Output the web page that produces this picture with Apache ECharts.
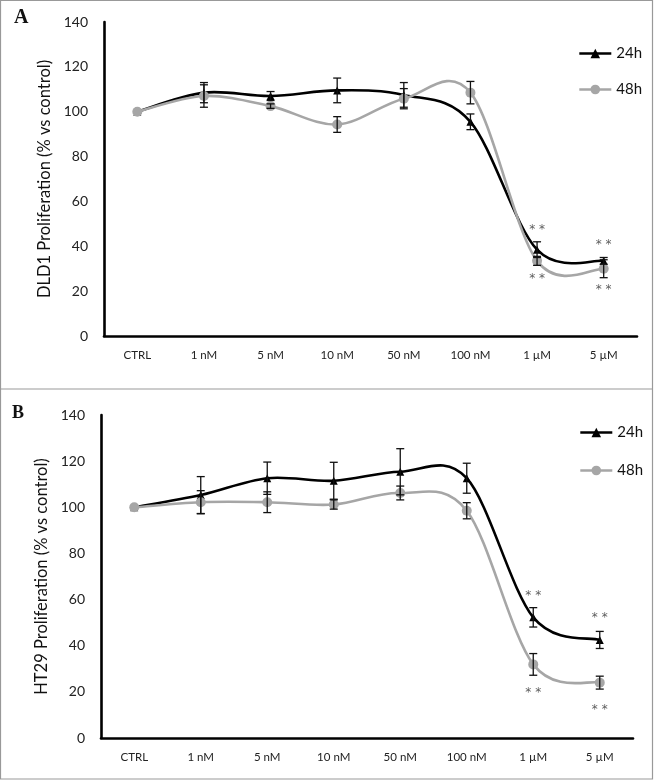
<!DOCTYPE html>
<html>
<head>
<meta charset="utf-8">
<script src="https://cdn.jsdelivr.net/npm/echarts@6/dist/echarts.min.js"></script>
<style>
  html, body { margin: 0; padding: 0; background: #fff; }
  #chart { width: 655px; height: 780px; }
</style>
</head>
<body>
<div id="chart"></div>
<script>
// ---------------- data ----------------
const categories = ['CTRL', '1 nM', '5 nM', '10 nM', '50 nM', '100 nM', '1 \u00b5M', '5 \u00b5M'];
const yTicks = [0, 20, 40, 60, 80, 100, 120, 140];

// Panel A: DLD1
const dld1_24h     = [100, 108.5, 107, 109.5, 107.5, 95.5, 38.5, 33.5];
const dld1_24h_err = [0, 4.5, 2, 5.5, 5.5, 3.5, 3.5, 1.5];
const dld1_48h     = [100, 107, 102.5, 94.3, 105.8, 108.5, 33.5, 30];
const dld1_48h_err = [0, 5, 1, 3.5, 4.5, 5, 2, 4];
const dld1_stars   = [[6, 48.8], [6, 27], [7, 41.8], [7, 22]];

// Panel B: HT29
const ht29_24h     = [100, 105.3, 112.6, 111.5, 115.4, 112.6, 52.3, 42.5];
const ht29_24h_err = [0, 8, 7, 8, 10, 6.5, 4.2, 3.7];
const ht29_48h     = [100, 102.2, 102.2, 101.2, 106.2, 98.5, 31.9, 24];
const ht29_48h_err = [0, 5, 4.5, 2, 3, 3.5, 4.7, 2.8];
const ht29_stars   = [[6, 62.7], [6, 21], [7, 53.3], [7, 13.6]];

// ---------------- helpers ----------------
const BLACK = '#000000';
const GRAY = '#A6A6A6';
const FONT = 'Lato';

function errData(vals, errs) {
  const out = [];
  vals.forEach((v, i) => { if (errs[i] > 0) out.push([i, v - errs[i], v + errs[i]]); });
  return out;
}
function errSeries(vals, errs, idx) {
  return {
    type: 'custom', xAxisIndex: idx, yAxisIndex: idx, z: 5, silent: true,
    data: errData(vals, errs),
    renderItem: function (params, api) {
      const x = api.value(0);
      const lo = api.coord([x, api.value(1)]);
      const hi = api.coord([x, api.value(2)]);
      const w = 4;
      const st = { stroke: '#111', lineWidth: 1.3 };
      return { type: 'group', children: [
        { type: 'line', shape: { x1: lo[0], y1: lo[1], x2: hi[0], y2: hi[1] }, style: st },
        { type: 'line', shape: { x1: lo[0] - w, y1: lo[1], x2: lo[0] + w, y2: lo[1] }, style: st },
        { type: 'line', shape: { x1: hi[0] - w, y1: hi[1], x2: hi[0] + w, y2: hi[1] }, style: st }
      ]};
    }
  };
}
// Spreadsheet-style smoothed curve (Catmull-Rom, 1/6 tangents) through the data,
// positioned with the library's own coordinate system (api.coord).
function curveSeries(vals, idx, color) {
  const segs = [];
  for (let i = 0; i < vals.length - 1; i++) segs.push([i, vals[i], vals[i + 1]]);
  return {
    type: 'custom', xAxisIndex: idx, yAxisIndex: idx, z: 2, silent: true,
    data: segs,
    renderItem: function (params, api) {
      const i = api.value(0);
      const n = vals.length;
      const P = k => { const kk = Math.max(0, Math.min(n - 1, k)); return api.coord([kk, vals[kk]]); };
      const p0 = P(i - 1), p1 = P(i), p2 = P(i + 1), p3 = P(i + 2);
      const c1 = [p1[0] + (p2[0] - p0[0]) / 6, p1[1] + (p2[1] - p0[1]) / 6];
      const c2 = [p2[0] - (p3[0] - p1[0]) / 6, p2[1] - (p3[1] - p1[1]) / 6];
      return {
        type: 'bezierCurve',
        shape: { x1: p1[0], y1: p1[1], cpx1: c1[0], cpy1: c1[1], cpx2: c2[0], cpy2: c2[1], x2: p2[0], y2: p2[1] },
        style: { stroke: color, lineWidth: 2.6, fill: null, lineCap: 'round' }
      };
    }
  };
}
function markerSeries(name, vals, idx, color, symbol, size) {
  return {
    name: name, type: 'line', xAxisIndex: idx, yAxisIndex: idx, data: vals,
    symbol: symbol, symbolSize: size, z: 4, showAllSymbol: true,
    lineStyle: { color: color, width: 2.6, opacity: 0 },
    itemStyle: { color: color, opacity: 1 },
    emphasis: { disabled: true }
  };
}
function starSeries(pts, idx) {
  return {
    type: 'scatter', xAxisIndex: idx, yAxisIndex: idx, data: pts, symbolSize: 1,
    itemStyle: { color: 'rgba(0,0,0,0)' }, silent: true, z: 6,
    label: { show: true, position: 'inside', formatter: '* *', color: '#333',
      fontFamily: 'DejaVu Sans', fontSize: 12, offset: [0, 3] }
  };
}
function xAxisDef(idx) {
  return {
    type: 'category', gridIndex: idx, data: categories, boundaryGap: true,
    axisTick: { show: false },
    axisLine: { lineStyle: { color: '#000', width: 2.6 } },
    axisLabel: { color: '#222', fontFamily: FONT, fontSize: 11.5, margin: 13, interval: 0 }
  };
}
function yAxisDef(idx, title) {
  return {
    type: 'value', gridIndex: idx, min: yTicks[0], max: yTicks[yTicks.length - 1], interval: 20,
    splitLine: { show: false }, axisTick: { show: false },
    axisLine: { show: true, lineStyle: { color: '#000', width: 2.6 } },
    axisLabel: { color: '#222', fontFamily: FONT, fontSize: 14, margin: 16 },
    name: title, nameLocation: 'middle', nameGap: 44, nameRotate: 90,
    nameTextStyle: { color: '#111', fontFamily: FONT, fontSize: 16.5 }
  };
}
const legendBase = {
  data: ['24h', '48h'], orient: 'vertical', itemWidth: 32, itemHeight: 12,
  textStyle: { fontFamily: FONT, fontSize: 15, color: '#111' }, selectedMode: false,
  lineStyle: { width: 2.6, opacity: 1 }
};

const chart = echarts.init(document.getElementById('chart'), null, { renderer: 'canvas' });
chart.setOption({
  backgroundColor: '#fff',
  animation: false,
  grid: [
    { left: 104, top: 22, width: 533, height: 314 },
    { left: 101, top: 415, width: 532, height: 323 }
  ],
  xAxis: [xAxisDef(0), xAxisDef(1)],
  yAxis: [yAxisDef(0, 'DLD1 Proliferation (% vs control)'), yAxisDef(1, 'HT29 Proliferation (% vs control)')],
  legend: [
    Object.assign({}, legendBase, { left: 573, top: 41, itemGap: 21 }),
    Object.assign({}, legendBase, { left: 574, top: 420, itemGap: 23 })
  ],
  graphic: [
    { type: 'rect', shape: { x: 0.5, y: 0.5, width: 652, height: 778.5 },
      style: { fill: 'none', stroke: '#999', lineWidth: 1.2 }, silent: true },
    { type: 'line', shape: { x1: 0, y1: 389, x2: 653, y2: 389 },
      style: { stroke: '#999', lineWidth: 1.2 }, silent: true },
    { type: 'text', left: 14, top: 8, style: { text: 'A', font: 'bold 20px "Liberation Serif"', fill: '#111' } },
    { type: 'text', left: 12, top: 404, style: { text: 'B', font: 'bold 18px "Liberation Serif"', fill: '#111' } }
  ],
  series: [
    curveSeries(dld1_24h, 0, BLACK),
    curveSeries(dld1_48h, 0, GRAY),
    markerSeries('24h', dld1_24h, 0, BLACK, 'triangle', 8),
    markerSeries('48h', dld1_48h, 0, GRAY, 'circle', 10),
    errSeries(dld1_24h, dld1_24h_err, 0),
    errSeries(dld1_48h, dld1_48h_err, 0),
    starSeries(dld1_stars, 0),
    curveSeries(ht29_24h, 1, BLACK),
    curveSeries(ht29_48h, 1, GRAY),
    markerSeries('24h', ht29_24h, 1, BLACK, 'triangle', 8),
    markerSeries('48h', ht29_48h, 1, GRAY, 'circle', 10),
    errSeries(ht29_24h, ht29_24h_err, 1),
    errSeries(ht29_48h, ht29_48h_err, 1),
    starSeries(ht29_stars, 1)
  ]
});
</script>
</body>
</html>
